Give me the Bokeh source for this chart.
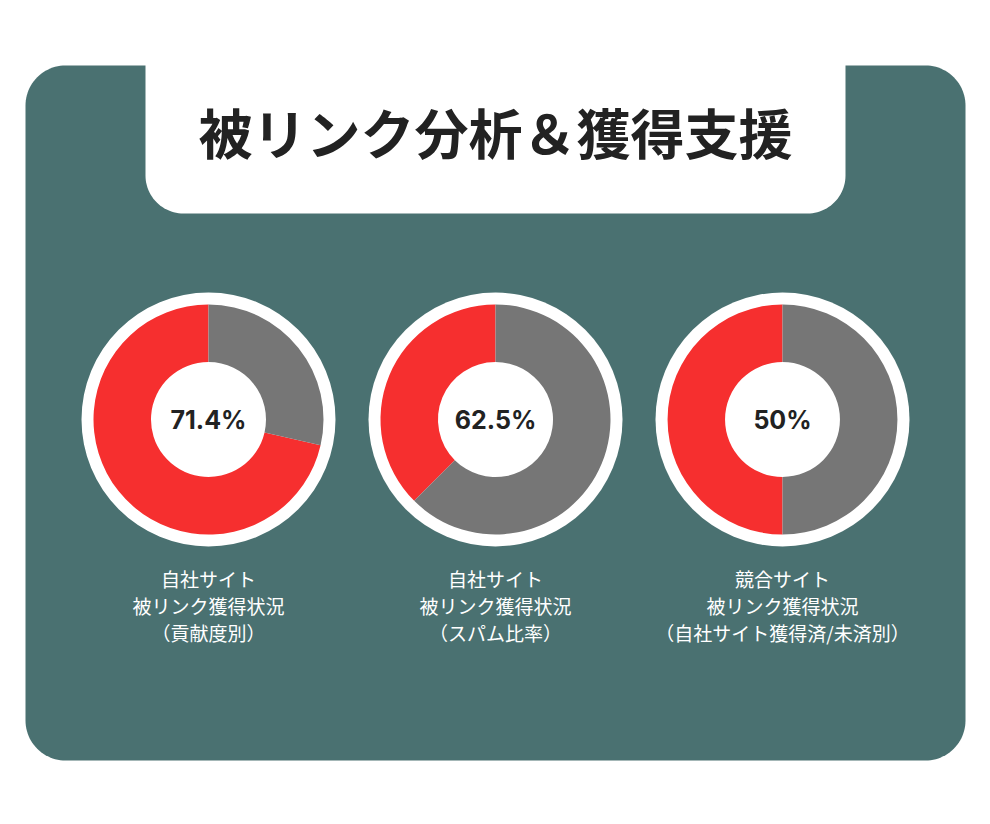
import math
from bokeh.plotting import figure
from bokeh.models import Range1d, ColumnDataSource
from bokeh.core.properties import value
from bokeh.embed import file_html
from bokeh.resources import INLINE

# ---- data ----
title_text = "被リンク分析＆獲得支援"
chart_keys = ["own_contrib", "own_spam", "competitor"]
red_share = [71.4, 37.5, 50.0]
gray_share = [28.6, 62.5, 50.0]
center_labels = ["71.4%", "62.5%", "50%"]
caption_line1 = ["自社サイト", "自社サイト", "競合サイト"]
caption_line2 = ["被リンク獲得状況", "被リンク獲得状況", "被リンク獲得状況"]
caption_line3 = ["（貢献度別）", "（スパム比率）", "（自社サイト獲得済/未済別）"]

# ---- layout (picture pixel coordinates; data y = H - picture y) ----
W, H = 974, 808
def Y(py):
    return H - py

RED = "#f62f2f"
GRAY = "#767676"
TEAL = "#4a7171"
DARK = "#222222"

p = figure(width=W, height=H, x_range=Range1d(0, W), y_range=Range1d(0, H),
           output_backend="svg", toolbar_location=None, min_border=0)
p.axis.visible = False
p.grid.visible = False
p.outline_line_color = None
p.background_fill_color = "white"
p.border_fill_color = "white"


def rounded_rect(x0, x1, y0, y1, r_top, r_bot, n=24):
    xs, ys = [], []
    corners = [
        (x1 - r_top, y0 + r_top, r_top, -90, 0),
        (x1 - r_bot, y1 - r_bot, r_bot, 0, 90),
        (x0 + r_bot, y1 - r_bot, r_bot, 90, 180),
        (x0 + r_top, y0 + r_top, r_top, 180, 270),
    ]
    for cx, cy, r, a0, a1 in corners:
        for i in range(n + 1):
            a = math.radians(a0 + (a1 - a0) * i / n)
            xs.append(cx + r * math.cos(a))
            ys.append(Y(cy + r * math.sin(a)))
    return xs, ys

# card
cx_, cy_ = rounded_rect(25, 965, 65, 760, 40, 40)
p.patch(cx_, cy_, fill_color=TEAL, line_color=None)
# title tab
tx_, ty_ = rounded_rect(145, 845, 20, 213, 0.01, 38)
p.patch(tx_, ty_, fill_color="white", line_color=None)

p.text(x=[495], y=[Y(131)], text=[title_text], text_align="center", text_baseline="middle",
       text_font=value("Noto Sans CJK JP"), text_font_style="bold", text_font_size="54px",
       text_color=DARK)

centers_x = [208, 495, 782]
center_y = Y(419)

p.circle(x=centers_x, y=[center_y] * 3, radius=127, fill_color="white", line_color=None)

red_start, red_end, gray_start, gray_end = [], [], [], []
for r, g in zip(red_share, gray_share):
    a0 = math.pi / 2
    a1 = a0 + 2 * math.pi * r / 100.0
    red_start.append(a0)
    red_end.append(a1)
    gray_start.append(a1)
    gray_end.append(a1 + 2 * math.pi * g / 100.0)

src = ColumnDataSource(dict(x=centers_x, y=[center_y] * 3, rs=red_start, re=red_end,
                            gs=gray_start, ge=gray_end, lab=center_labels))
p.annular_wedge(x="x", y="y", inner_radius=57.5, outer_radius=115, start_angle="rs",
                end_angle="re", direction="anticlock", fill_color=RED, line_color=None, source=src)
p.annular_wedge(x="x", y="y", inner_radius=57.5, outer_radius=115, start_angle="gs",
                end_angle="ge", direction="anticlock", fill_color=GRAY, line_color=None, source=src)

p.text(x="x", y="y", text="lab", text_align="center", text_baseline="middle",
       text_font=value("Inter"), text_font_style="bold", text_font_size="25px",
       text_color=DARK, source=src)

for lines, py in ((caption_line1, 578), (caption_line2, 605), (caption_line3, 632)):
    p.text(x=centers_x, y=[Y(py)] * 3, text=lines, text_align="center", text_baseline="middle",
           text_font=value("Noto Sans CJK JP"), text_font_size="19px", text_color="white")

open("out.html", "w").write(file_html(p, INLINE))
